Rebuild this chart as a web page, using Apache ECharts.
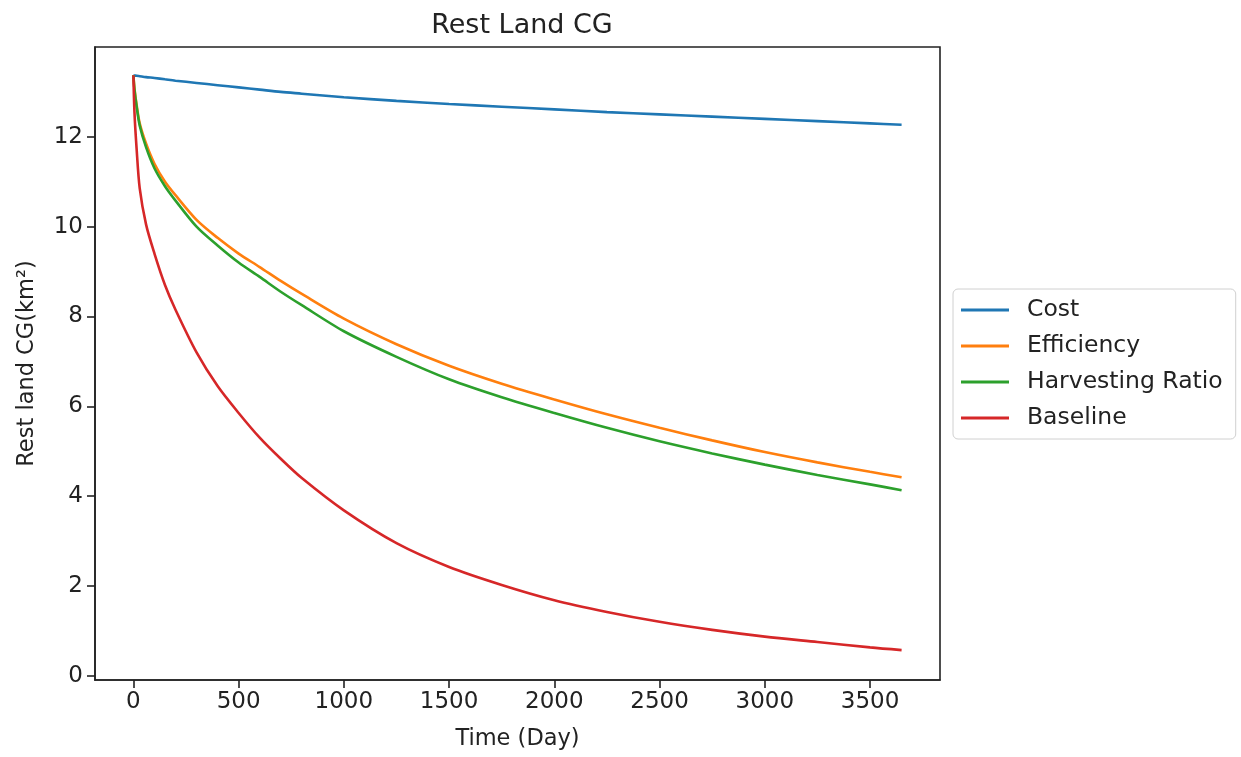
<!DOCTYPE html>
<html>
<head>
<meta charset="utf-8">
<title>Rest Land CG</title>
<script src="https://cdn.jsdelivr.net/npm/echarts@6/dist/echarts.min.js"></script>
<style>
  html, body { margin: 0; padding: 0; background: #fff; }
  #chart { width: 1241px; height: 757px; }
</style>
</head>
<body>
<div id="chart"></div>
<script>
// Sample days shared by every scenario
const days = [0, 5, 15, 30, 60, 100, 150, 200, 300, 400, 500, 600, 700, 800, 1000,
  1250, 1500, 1750, 2000, 2250, 2500, 2750, 3000, 3250, 3500, 3650];

// Remaining land CG (km²) per scenario
const cost = [13.37, 13.365, 13.36, 13.35, 13.33, 13.31, 13.28, 13.25, 13.2, 13.15, 13.1, 13.05, 13.0, 12.96, 12.88,
  12.8, 12.73, 12.67, 12.61, 12.55, 12.5, 12.45, 12.4, 12.35, 12.3, 12.27];
const efficiency = [13.37, 13.08, 12.72, 12.3, 11.85, 11.4, 11.0, 10.7, 10.15, 9.75, 9.4, 9.1, 8.79, 8.5, 7.95,
  7.38, 6.9, 6.5, 6.15, 5.82, 5.52, 5.24, 4.98, 4.75, 4.54, 4.42];
const harvestingRatio = [13.37, 13.05, 12.68, 12.25, 11.77, 11.3, 10.9, 10.58, 10.0, 9.58, 9.2, 8.88, 8.55, 8.25, 7.67,
  7.1, 6.6, 6.2, 5.85, 5.52, 5.22, 4.95, 4.7, 4.47, 4.26, 4.13];
const baseline = [13.37, 12.55, 11.75, 10.85, 10.05, 9.4, 8.7, 8.15, 7.2, 6.45, 5.85, 5.3, 4.83, 4.4, 3.68,
  2.95, 2.42, 2.02, 1.68, 1.42, 1.2, 1.02, 0.87, 0.75, 0.63, 0.57];

const seriesNames = ['Cost', 'Efficiency', 'Harvesting Ratio', 'Baseline'];
const seriesValues = [cost, efficiency, harvestingRatio, baseline];
const seriesColors = ['#1f77b4', '#ff7f0e', '#2ca02c', '#d62728'];

const xTicks = [0, 500, 1000, 1500, 2000, 2500, 3000, 3500];
const yTicks = [0, 2, 4, 6, 8, 10, 12];

const textColor = '#222';
const font = 'DejaVu Sans';
const plain = v => String(v);

const chart = echarts.init(document.getElementById('chart'), null, { renderer: 'canvas' });

const series = seriesNames.map((name, i) => ({
  name: name,
  type: 'line',
  data: days.map((d, j) => [d, seriesValues[i][j]]),
  symbol: 'none',
  smooth: 0.3,
  lineStyle: { color: seriesColors[i], width: 2.6 },
  itemStyle: { color: seriesColors[i] },
  z: 2 + i,
  animation: false
}));

chart.setOption({
  animation: false,
  backgroundColor: '#fff',
  title: {
    text: 'Rest Land CG',
    left: 517, top: 7,
    textAlign: 'center',
    textStyle: { fontFamily: font, fontSize: 27, fontWeight: 'normal', color: textColor }
  },
  grid: {
    left: 95, top: 47, right: 301, bottom: 77,
    show: true, borderColor: '#222', borderWidth: 1.6, backgroundColor: 'transparent'
  },
  legend: {
    orient: 'vertical',
    left: 953, top: 289,
    data: seriesNames,
    icon: 'rect',
    itemWidth: 48, itemHeight: 3,
    itemGap: 12,
    padding: [9, 13, 9, 8],
    backgroundColor: '#fff',
    borderColor: '#d0d0d0', borderWidth: 1, borderRadius: 5,
    textStyle: { fontFamily: font, fontSize: 23.5, color: textColor, padding: [0, 0, 0, 13] }
  },
  xAxis: {
    type: 'value',
    min: -182.5, max: 3832.5,
    name: 'Time (Day)',
    nameLocation: 'middle', nameGap: 48,
    nameTextStyle: { fontFamily: font, fontSize: 22.5, color: textColor },
    axisLine: { show: true, onZero: false, lineStyle: { color: '#222', width: 1.6 } },
    axisTick: { show: true, inside: false, length: 8, lineStyle: { color: '#222', width: 1.6 }, customValues: xTicks },
    axisLabel: { fontFamily: font, fontSize: 23, color: textColor, margin: 11, customValues: xTicks, formatter: plain },
    splitLine: { show: false }
  },
  yAxis: {
    type: 'value',
    min: -0.096, max: 14.0,
    name: 'Rest land CG(km²)',
    nameLocation: 'middle', nameGap: 56, nameRotate: 90,
    nameTextStyle: { fontFamily: font, fontSize: 22.5, color: textColor },
    axisLine: { show: true, onZero: false, lineStyle: { color: '#222', width: 1.6 } },
    axisTick: { show: true, inside: false, length: 8, lineStyle: { color: '#222', width: 1.6 }, customValues: yTicks },
    axisLabel: { fontFamily: font, fontSize: 23, color: textColor, margin: 12, customValues: yTicks, formatter: plain },
    splitLine: { show: false }
  },
  series: series
});
</script>
</body>
</html>
